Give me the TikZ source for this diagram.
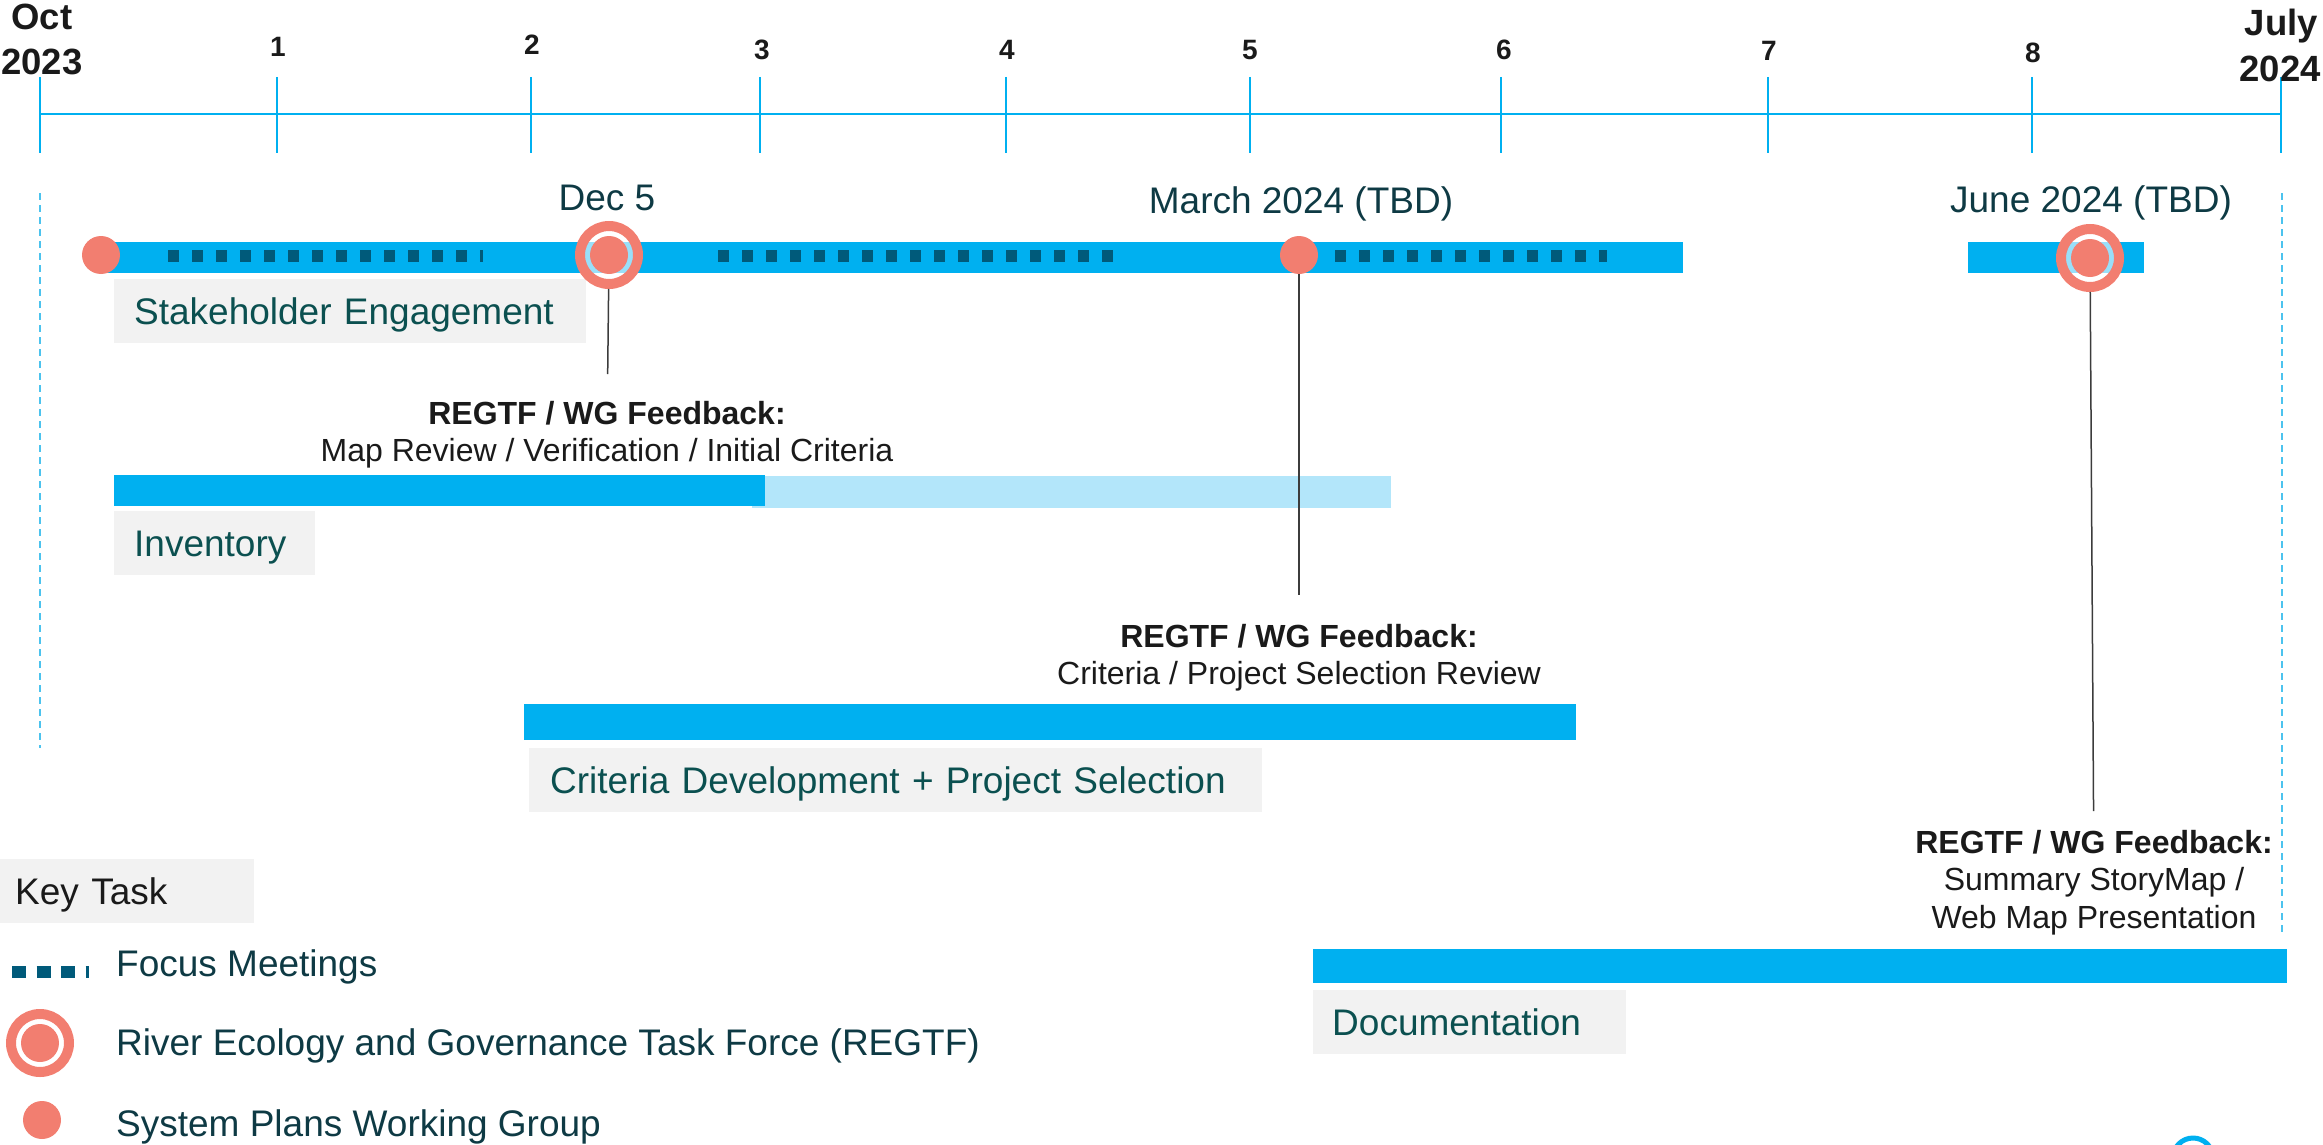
\documentclass[tikz,border=0pt]{standalone}
\usepackage{fontspec}
\setmainfont{Liberation Sans}
\usetikzlibrary{positioning}

\definecolor{barblue}{HTML}{00B0F0}
\definecolor{barpale}{HTML}{B3E6FA}
\definecolor{salmon}{HTML}{F27E70}
\definecolor{meetblue}{HTML}{005A7A}
\definecolor{tasktext}{HTML}{0B5050}
\definecolor{datetext}{HTML}{0E3A44}
\definecolor{boxgray}{HTML}{F2F2F2}
\definecolor{inkblack}{HTML}{1A1A1A}
\definecolor{guideblue}{HTML}{4CC3EE}

\begin{document}
\begin{tikzpicture}[x=1pt, y=-1pt,
    axisline/.style={barblue, line width=2pt},
    guide/.style={guideblue, line width=2pt, dash pattern=on 7pt off 5pt},
    bar/.style={fill=barblue},
    meeting/.style={meetblue, line width=12pt, dash pattern=on 11pt off 13pt},
    leader/.style={draw=inkblack!85, line width=1.5pt},
    wgdot/.style={circle, fill=salmon, inner sep=0pt, minimum size=38pt},
    regtf/.style={circle, inner sep=0pt, minimum size=58pt, draw=salmon, line width=10pt,
        fill=white, fill opacity=.6,
        path picture={\fill[salmon, fill opacity=1] (path picture bounding box.center) circle (19pt);}},
    tasklabel/.style={anchor=north west, fill=boxgray, text=tasktext, align=left,
        font=\fontsize{37}{44}\selectfont, minimum height=64pt, inner xsep=20pt, inner ysep=0pt,
        text height=30pt, text depth=4pt},
    monthnum/.style={anchor=base, inner sep=0pt, text=inkblack, font=\bfseries\fontsize{28}{34}\selectfont},
    endlabel/.style={inner sep=0pt, text=inkblack, font=\bfseries\fontsize{36.5}{44}\selectfont},
    datelabel/.style={anchor=base, inner sep=0pt, text=datetext, font=\fontsize{37}{44}\selectfont},
    feedback/.style={anchor=north, inner sep=0pt, align=center, text=inkblack, font=\fontsize{32}{37.5}\selectfont},
    legendtext/.style={anchor=base west, inner sep=0pt, text=datetext, font=\fontsize{37}{44}\selectfont}]
    \useasboundingbox (0,0) rectangle (2323,1145);

    % time axis
    \draw[axisline] (40,114) -- (2281,114);
    \foreach \x in {40,277,531,760,1006,1250,1501,1768,2032,2281}
        \draw[axisline] (\x,77) -- (\x,153);
    \foreach \x/\y/\n in {278/57/1, 532/55/2, 762/60/3, 1007/60/4, 1250/60/5, 1504/60/6, 1769/61/7, 2033/63/8}
        \node[monthnum] (m\n) at (\x,\y) {\n};
    \node[endlabel, anchor=base] (oct) at (42,30) {Oct};
    \node[endlabel, anchor=base] (octyear) at (42,75) {2023};
    \node[endlabel, anchor=base east] (july) at (2318,36) {July};
    \node[endlabel, anchor=base east] (julyyear) at (2321,82) {2024};
    \draw[guide] (40,193) -- (40,748);
    \draw[guide] (2282,193) -- (2282,932);

    % bars
    \fill[bar] (99,242) rectangle (1683,273);
    \fill[bar] (1968,242) rectangle (2144,273);
    \fill[barpale] (752,476) rectangle (1391,508);
    \fill[bar] (114,475) rectangle (765,506);
    \fill[bar] (524,704) rectangle (1576,740);
    \fill[bar] (1313,949) rectangle (2287,983);

    % focus meetings
    \draw[meeting] (168,256) -- (483,256);
    \draw[meeting] (718,256) -- (1114,256);
    \draw[meeting] (1335,256) -- (1607,256);

    % task labels
    \node[tasklabel, text width=432pt] (stake) at (114,279) {Stakeholder Engagement};
    \node[tasklabel, text width=161pt] (inventory) at (114,511) {Inventory};
    \node[tasklabel, inner xsep=21pt, text width=691pt] (criteria) at (529,748) {Criteria Development + Project Selection};
    \node[tasklabel, inner xsep=19pt, text width=275pt] (documentation) at (1313,990) {Documentation};

    % meetings
    \node[wgdot] (kickoff) at (101,255) {};
    \node[regtf] (dec) at (609,255) {};
    \node[wgdot] (march) at (1299,255) {};
    \node[regtf] (june) at (2090,258) {};
    \node[datelabel] (declabel) at (607,210) {Dec 5};
    \node[datelabel] (marchlabel) at (1301,213) {March 2024 (TBD)};
    \node[datelabel] (junelabel) at (2091,212) {June 2024 (TBD)};

    % feedback
    \node[feedback] (decfb) at (607,401) {\bfseries REGTF / WG Feedback:\\Map Review / Verification / Initial Criteria};
    \node[feedback] (marchfb) at (1299,624) {\bfseries REGTF / WG Feedback:\\Criteria / Project Selection Review};
    \node[feedback] (junefb) at (2094,830) {\bfseries REGTF / WG Feedback:\\Summary StoryMap /\\Web Map Presentation};
    \draw[leader, shorten >=27pt] (dec) -- (decfb);
    \draw[leader, shorten >=29pt] (march) -- (marchfb);
    \draw[leader, shorten >=19pt] (june) -- (junefb);

    % legend
    \node[tasklabel, text=inkblack, inner xsep=15pt, text width=224pt] (key) at (0,859) {Key Task};
    \draw[meeting, dash pattern=on 14pt off 10.5pt] (12,972) -- (89,972);
    \node[legendtext] (lgmeet) at (116,976) {Focus Meetings};
    \node[regtf] (lgregtf) at (40,1043) {};
    \node[legendtext] (lgregtftext) at (116,1055) {River Ecology and Governance Task Force (REGTF)};
    \node[wgdot] (lgwg) at (42,1120) {};
    \node[legendtext] (lgwgtext) at (116,1136) {System Plans Working Group};

    \draw[barblue, line width=5pt] (2193,1158) circle (20pt);
\end{tikzpicture}
\end{document}
